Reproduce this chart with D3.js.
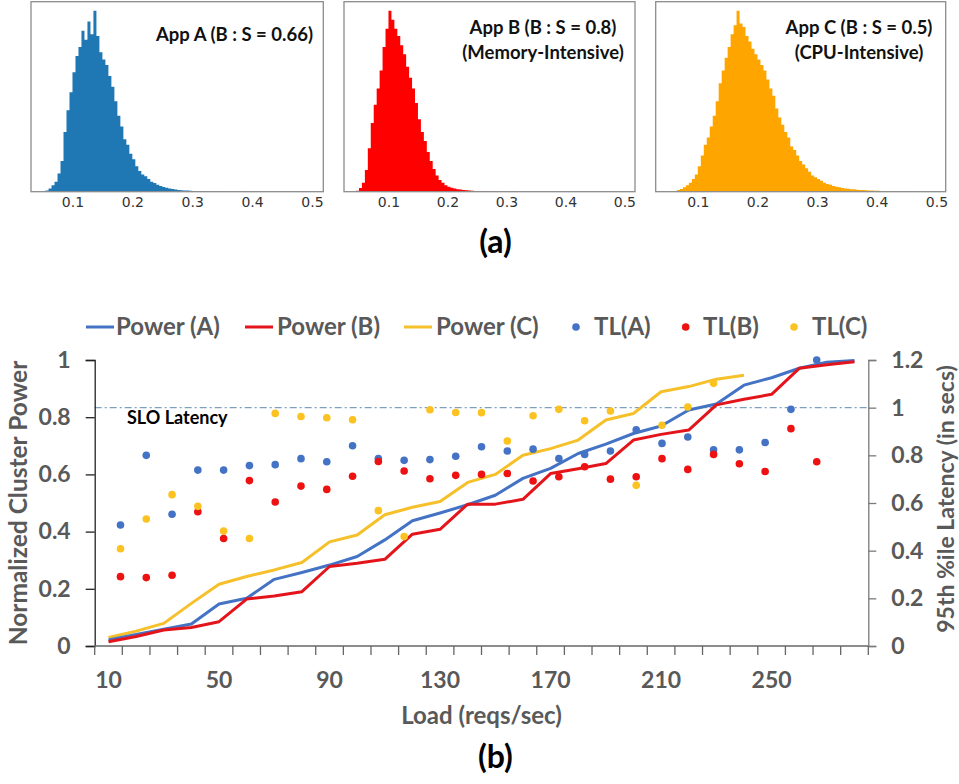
<!DOCTYPE html>
<html>
<head>
<meta charset="utf-8">
<script src="https://cdn.jsdelivr.net/npm/d3@7"></script>
<style>
  body { margin: 0; background: #fff; }
  svg { display: block; }
</style>
</head>
<body>
<svg id="fig" width="959" height="784"></svg>
<script>
// ---------- (a) response-time histograms ----------
// bins start at 0.040 s and are 0.005 s wide; counts are relative (peak = 100)
const binStart = 0.04;
const binWidth = 0.005;

const histA = [
  0, 0, 0.3, 0.6, 1.8, 3.5, 5.5, 10, 17, 33,
  45, 55, 66, 75, 80, 89, 84, 94, 87, 100,
  86, 77, 73, 70, 64, 58, 50, 42, 36, 29,
  26, 21, 18, 14, 11.5, 9.5, 8.5, 7, 5.5, 4.8,
  3.8, 3.2, 2.6, 2.2, 1.8, 1.5, 1.2, 1.0, 0.8, 0.7,
  0.6, 0.5, 0.4, 0.35, 0.3, 0.25, 0.2, 0.2, 0.15, 0.3,
  0.1, 0.1, 0.05, 0, 0, 0, 0, 0, 0.2, 0,
  0, 0, 0, 0, 0, 0, 0, 0, 0, 0,
  0, 0, 0, 0
];
const histB = [
  0, 0.5, 2, 5, 12, 24, 38, 48, 57, 67,
  80, 90, 100, 95, 90, 86, 81, 76, 69, 63,
  57, 49, 40, 33, 28, 22, 17, 12.5, 9, 6.5,
  5, 3.5, 2.8, 2.2, 1.8, 1.4, 1.2, 0.9, 0.8, 0.6,
  0.5, 0.4, 0.3, 0.25, 0.2, 0.15, 0.3, 0.1, 0.3, 0.1,
  0.05, 0, 0.05, 0, 0.2, 0, 0, 0, 0, 0,
  0, 0, 0, 0, 0, 0, 0, 0, 0, 0,
  0, 0, 0, 0, 0, 0, 0, 0, 0, 0,
  0, 0, 0, 0
];
const histC = [
  0, 0, 0, 0, 0.3, 1, 1.5, 2.5, 3.5, 5,
  7, 9.5, 14, 20, 26, 30, 36, 42, 50, 60,
  67, 74, 80, 87, 92, 100, 93, 91, 86, 83,
  79, 76, 73, 70, 67, 62, 57, 53, 46, 41,
  37, 33, 30, 25, 23, 20, 17, 15, 13, 11,
  9, 8, 7, 6, 5, 4.3, 3.8, 3.2, 2.8, 2.5,
  2, 1.8, 1.6, 1.4, 1.3, 1.1, 1.0, 0.9, 0.8, 0.7,
  0.6, 0.5, 0.5, 0.4, 0.4, 0.3, 0.3, 0.25, 0.2, 0.2,
  0.15, 0.15, 0.1, 0.1
];
const histTicks = [0.1, 0.2, 0.3, 0.4, 0.5];

// ---------- (b) cluster power and tail latency vs. load ----------
const loads = [10, 20, 30, 40, 50, 60, 70, 80, 90, 100, 110, 120, 130, 140,
               150, 160, 170, 180, 190, 200, 210, 220, 230, 240, 250, 260, 270, 280];
const loadLabels = [10, 50, 90, 130, 170, 210, 250];

const powerA = [0.021, 0.040, 0.059, 0.077, 0.147, 0.167, 0.233, 0.257, 0.283, 0.313,
                0.371, 0.438, 0.465, 0.494, 0.527, 0.586, 0.621, 0.673, 0.706, 0.743,
                0.769, 0.825, 0.846, 0.912, 0.938, 0.971, 0.992, 0.998];
const powerB = [0.015, 0.033, 0.056, 0.065, 0.085, 0.164, 0.175, 0.190, 0.278, 0.289,
                0.303, 0.391, 0.408, 0.496, 0.496, 0.513, 0.603, 0.620, 0.638, 0.720,
                0.740, 0.755, 0.843, 0.863, 0.880, 0.971, 0.983, 0.994];
const powerC = [0.030, 0.052, 0.079, 0.149, 0.216, 0.243, 0.266, 0.292, 0.364, 0.388,
                0.459, 0.485, 0.505, 0.572, 0.600, 0.667, 0.690, 0.720, 0.790, 0.813,
                0.889, 0.907, 0.933, 0.947];

const tlA = [0.508, 0.800, 0.553, 0.738, 0.738, 0.757, 0.761, 0.786, 0.773, 0.840,
             0.787, 0.779, 0.782, 0.796, 0.836, 0.818, 0.826, 0.787, 0.804, 0.818,
             0.907, 0.850, 0.877, 0.823, 0.823, 0.854, 0.993, 1.200];
const tlB = [0.291, 0.287, 0.297, 0.563, 0.451, 0.694, 0.604, 0.671, 0.657, 0.712,
             0.774, 0.734, 0.702, 0.716, 0.720, 0.724, 0.692, 0.710, 0.752, 0.700,
             0.710, 0.786, 0.741, 0.804, 0.765, 0.732, 0.912, 0.773];
const tlC = [0.408, 0.533, 0.635, 0.586, 0.482, 0.451, 0.976, 0.963, 0.958, 0.949,
             0.568, 0.459, 0.991, 0.980, 0.979, 0.860, 0.966, 0.993, 0.945, 0.986,
             0.674, 0.926, 1.003, 1.102];

const powerTicks = [0, 0.2, 0.4, 0.6, 0.8, 1];
const latencyTicks = [0, 0.2, 0.4, 0.6, 0.8, 1, 1.2];
const sloLatency = 1.0;

// ---------- drawing ----------
const svg = d3.select("#fig");
const FONT = "Lato, 'Open Sans', sans-serif";
const GREY = "#595959";

// ----- histogram panels -----
const panels = [
  { data: histA, color: "#1f77b4", left: 31, right: 323.3, domain: [0.0307, 0.519],
    title: ["App A (B : S = 0.66)"], titleX: 313, titleAnchor: "end", titleY: [41] },
  { data: histB, color: "#ff0000", left: 344, right: 635, domain: [0.0246, 0.518],
    title: ["App B (B : S = 0.8)", "(Memory-Intensive)"], titleX: 543, titleAnchor: "middle", titleY: [34, 59] },
  { data: histC, color: "#ffa500", left: 655.7, right: 945.7, domain: [0.0294, 0.5156],
    title: ["App C (B : S = 0.5)", "(CPU-Intensive)"], titleX: 859, titleAnchor: "middle", titleY: [34, 59] }
];
const hTop = 1.7, hBottom = 191.7;

panels.forEach(p => {
  const g = svg.append("g");
  const x = d3.scaleLinear().domain(p.domain).range([p.left, p.right]);
  const y = d3.scaleLinear().domain([0, d3.max(p.data) * 1.05]).range([hBottom, hTop]);

  // bins as [lower edge, count]; a closing point ends the last bar
  const bins = p.data.map((d, i) => [binStart + i * binWidth, d]);
  bins.push([binStart + p.data.length * binWidth, 0]);
  const area = d3.area()
    .x(d => x(d[0]))
    .y0(hBottom)
    .y1(d => y(d[1]))
    .curve(d3.curveStepAfter);
  g.append("path").datum(bins).attr("d", area).attr("fill", p.color);

  g.append("rect")
    .attr("x", p.left).attr("y", hTop)
    .attr("width", p.right - p.left).attr("height", hBottom - hTop)
    .attr("fill", "none").attr("stroke", "#8c8c8c").attr("stroke-width", 1.3);

  const ax = g.append("g").attr("transform", `translate(0,${hBottom})`)
    .call(d3.axisBottom(x).tickValues(histTicks).tickSize(0).tickPadding(5).tickFormat(d3.format(".1f")));
  ax.select(".domain").remove();
  ax.selectAll("text")
    .attr("font-family", "'DejaVu Sans', sans-serif")
    .attr("font-size", 14).attr("fill", "#333");

  p.title.forEach((t, k) => {
    g.append("text")
      .attr("x", p.titleX).attr("y", p.titleY[k])
      .attr("text-anchor", p.titleAnchor)
      .attr("font-family", FONT).attr("font-weight", "bold")
      .attr("font-size", 18.5).attr("fill", "#111")
      .text(t);
  });
});

svg.append("text").attr("x", 495.5).attr("y", 253)
  .attr("text-anchor", "middle").attr("font-family", FONT)
  .attr("font-weight", "bold").attr("font-size", 32).attr("fill", "#000")
  .text("(a)");

// ----- combined power / latency chart -----
const pl = 94.7, pr = 868.3, pt = 360, pb = 646;
const xCat = d3.scaleBand().domain(loads).range([pl, pr]).padding(0);
const xLoad = d3.scaleLinear().domain([0, 300]).range([pl, pr]);
const yPow = d3.scaleLinear().domain([0, 1]).range([pb, pt]);
const yLat = d3.scaleLinear().domain([0, 1.2]).range([pb, pt]);

const cBlue = "#4472c4", cRed = "#e3151b", cGold = "#f5c02a";
const cDotBlue = "#4472c4", cDotRed = "#ee1111", cDotGold = "#fcc221";

// SLO reference line
svg.append("line")
  .attr("x1", pl).attr("x2", pr)
  .attr("y1", yLat(sloLatency)).attr("y2", yLat(sloLatency))
  .attr("stroke", "#7f9fbf").attr("stroke-width", 1.2)
  .attr("stroke-dasharray", "7,3,2,3");
svg.append("text").attr("x", 127).attr("y", 424)
  .attr("font-family", FONT).attr("font-weight", "bold")
  .attr("font-size", 18).attr("fill", "#000")
  .text("SLO Latency");

// power lines
const linePow = d3.line()
  .x((d, i) => xCat(loads[i]) + xCat.bandwidth() / 2)
  .y(d => yPow(d));
[[powerC, cGold], [powerA, cBlue], [powerB, cRed]].forEach(([s, c]) => {
  svg.append("path").datum(s)
    .attr("d", linePow)
    .attr("fill", "none").attr("stroke", c)
    .attr("stroke-width", 3).attr("stroke-linejoin", "round");
});

// latency dots
[[tlA, cDotBlue], [tlB, cDotRed], [tlC, cDotGold]].forEach(([s, c]) => {
  svg.append("g").selectAll("circle")
    .data(s)
    .join("circle")
    .attr("cx", (d, i) => xLoad(loads[i]))
    .attr("cy", d => yLat(d))
    .attr("r", 3.8)
    .attr("fill", c);
});

// left axis
const axL = svg.append("g").attr("transform", `translate(${pl},0)`)
  .call(d3.axisLeft(yPow).tickValues(powerTicks).tickSize(9).tickPadding(15)
    .tickFormat(d => d === 0 || d === 1 ? d3.format("d")(d) : d3.format(".1f")(d)));
axL.select(".domain").attr("stroke", "#222").attr("stroke-width", 1.3);
axL.selectAll(".tick line").attr("stroke", "#222").attr("stroke-width", 1.3);
axL.selectAll("text").attr("font-family", FONT).attr("font-weight", "bold")
  .attr("font-size", 23).attr("fill", GREY);

// right axis
const axR = svg.append("g").attr("transform", `translate(${pr},0)`)
  .call(d3.axisRight(yLat).tickValues(latencyTicks).tickSize(8).tickPadding(15)
    .tickFormat(d => d === 0 || d === 1 ? d3.format("d")(d) : d3.format(".1f")(d)));
axR.select(".domain").attr("stroke", "#7a7a7a").attr("stroke-width", 1.3);
axR.selectAll(".tick line").attr("stroke", "#7a7a7a").attr("stroke-width", 1.3);
axR.selectAll("text").attr("font-family", FONT).attr("font-weight", "bold")
  .attr("font-size", 23).attr("fill", GREY);

// bottom category axis: ticks on category boundaries, labels every fourth category
const axB = svg.append("g").attr("transform", `translate(0,${pb})`);
axB.append("line").attr("x1", pl).attr("x2", pr).attr("y1", 0).attr("y2", 0)
  .attr("stroke", "#666").attr("stroke-width", 1.3);
axB.selectAll("line.b")
  .data(loads.map(l => xCat(l)).concat([pr]))
  .join("line").attr("class", "b")
  .attr("x1", d => d).attr("x2", d => d)
  .attr("y1", 0).attr("y2", 9)
  .attr("stroke", "#666").attr("stroke-width", 1.3);
axB.selectAll("text")
  .data(loadLabels)
  .join("text")
  .attr("x", d => xCat(d) + xCat.bandwidth() / 2)
  .attr("y", 42)
  .attr("text-anchor", "middle")
  .attr("font-family", FONT).attr("font-weight", "bold")
  .attr("font-size", 23).attr("fill", GREY)
  .text(d => d);

// axis titles
svg.append("text")
  .attr("transform", `translate(27,${(pt + pb) / 2}) rotate(-90)`)
  .attr("text-anchor", "middle").attr("font-family", FONT).attr("font-weight", "bold")
  .attr("font-size", 24.5).attr("fill", GREY)
  .text("Normalized Cluster Power");
svg.append("text")
  .attr("transform", `translate(954,${(pt + pb) / 2 - 4}) rotate(-90)`)
  .attr("text-anchor", "middle").attr("font-family", FONT).attr("font-weight", "bold")
  .attr("font-size", 23).attr("fill", GREY)
  .text("95th %ile Latency (in secs)");
svg.append("text")
  .attr("x", (pl + pr) / 2).attr("y", 724)
  .attr("text-anchor", "middle").attr("font-family", FONT).attr("font-weight", "bold")
  .attr("font-size", 24).attr("fill", GREY)
  .text("Load (reqs/sec)");

// legend
const legend = [
  { label: "Power (A)", color: cBlue, kind: "line", x: 86, tx: 116 },
  { label: "Power (B)", color: cRed, kind: "line", x: 245, tx: 277 },
  { label: "Power (C)", color: cGold, kind: "line", x: 404, tx: 436 },
  { label: "TL(A)", color: cDotBlue, kind: "dot", x: 576, tx: 594 },
  { label: "TL(B)", color: cDotRed, kind: "dot", x: 685.7, tx: 703 },
  { label: "TL(C)", color: cDotGold, kind: "dot", x: 794, tx: 812 }
];
const lg = svg.append("g");
const ly = 327;
legend.forEach(it => {
  if (it.kind === "line") {
    lg.append("line").attr("x1", it.x).attr("x2", it.x + 28)
      .attr("y1", ly).attr("y2", ly)
      .attr("stroke", it.color).attr("stroke-width", 3);
  } else {
    lg.append("circle").attr("cx", it.x).attr("cy", ly).attr("r", 3.8).attr("fill", it.color);
  }
  lg.append("text").attr("x", it.tx).attr("y", ly).attr("dy", "0.35em")
    .attr("font-family", FONT).attr("font-weight", "bold")
    .attr("font-size", 24).attr("fill", GREY)
    .text(it.label);
});

svg.append("text").attr("x", 495.5).attr("y", 768)
  .attr("text-anchor", "middle").attr("font-family", FONT)
  .attr("font-weight", "bold").attr("font-size", 32).attr("fill", "#000")
  .text("(b)");
</script>
</body>
</html>
